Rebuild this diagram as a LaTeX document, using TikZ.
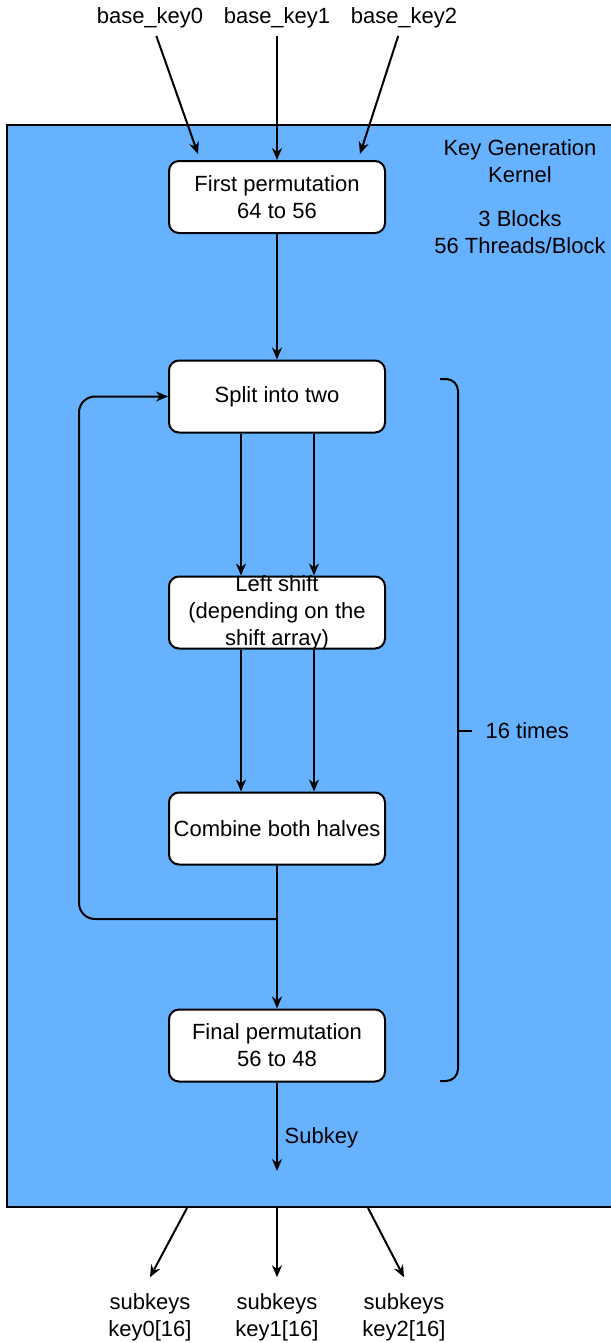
\documentclass[tikz,border=0pt]{standalone}
\usepackage{fontspec}
\setmainfont{Liberation Sans}
\usetikzlibrary{arrows.meta}
\definecolor{kernelblue}{HTML}{66B2FF}
\begin{document}
\begin{tikzpicture}[x=0.5pt,y=-0.5pt,line width=1pt,
    font=\fontsize{11}{13.5}\selectfont,
    >={Stealth[length=6pt,width=5pt]},
    stage/.style={draw,fill=white,rounded corners=5pt,minimum width=108pt,
        minimum height=36pt,align=center,inner sep=0pt},
    subkeys/.style={align=center,inner ysep=7.5pt}]
\useasboundingbox (0,0) rectangle (610,1343);
\draw[fill=kernelblue] (7,125) rectangle (630,1207);
\node[align=center] (title) at (520,197) {Key Generation\\Kernel\\[8.5pt]3 Blocks\\56 Threads/Block};
% key schedule stages
\node[stage] (first) at (277,197) {First permutation\\64 to 56};
\node[stage] (split) at (277,396.5) {Split into two};
\node[stage,label={[align=center]center:Left shift\\(depending on the\\shift array)}] (shift) at (277,612.5) {};
\node[stage] (combine) at (277,828.5) {Combine both halves};
\node[stage] (final) at (277,1045.5) {Final permutation\\56 to 48};
% inputs
\node (key0) at (150,18) {base\_key0};
\node (key1) at (277,18) {base\_key1};
\node (key2) at (404,18) {base\_key2};
\coordinate (in0) at (198,154);
\coordinate (in2) at (360,154);
\draw[->] (key0) -- (in0);
\draw[->] (key1) -- (first);
\draw[->] (key2) -- (in2);
\draw[->] (first) -- (split);
\draw[->] ([xshift=-18pt]split.south) -- ([xshift=-18pt]shift.north);
\draw[->] ([xshift=18.5pt]split.south) -- ([xshift=18.5pt]shift.north);
\draw[->] ([xshift=-18pt]shift.south) -- ([xshift=-18pt]combine.north);
\draw[->] ([xshift=18.5pt]shift.south) -- ([xshift=18.5pt]combine.north);
\draw[->] (combine) -- (final);
% loop back
\coordinate (merge) at (277,919);
\draw[->,rounded corners=8pt] (merge) -| (79,396.5) -- (split.west);
% 16 rounds
\draw[rounded corners=6pt] (440,379) -| (458,731) |- (440,1081);
\draw (458,731) -- (472,731);
\node[right] (times) at (478,731) {16 times};
% outputs
\coordinate (out) at (277,1171);
\draw[->] (final) -- node[right,pos=0.62] (subkey) {Subkey} (out);
\node[subkeys] (sub0) at (150,1317) {subkeys\\key0[16]};
\node[subkeys] (sub1) at (277,1317) {subkeys\\key1[16]};
\node[subkeys] (sub2) at (404,1317) {subkeys\\key2[16]};
\coordinate (o0) at (187,1208);
\coordinate (o1) at (277,1208);
\coordinate (o2) at (368,1208);
\draw[->] (o0) -- (sub0.north);
\draw[->] (o1) -- (sub1.north);
\draw[->] (o2) -- (sub2.north);
\end{tikzpicture}
\end{document}
